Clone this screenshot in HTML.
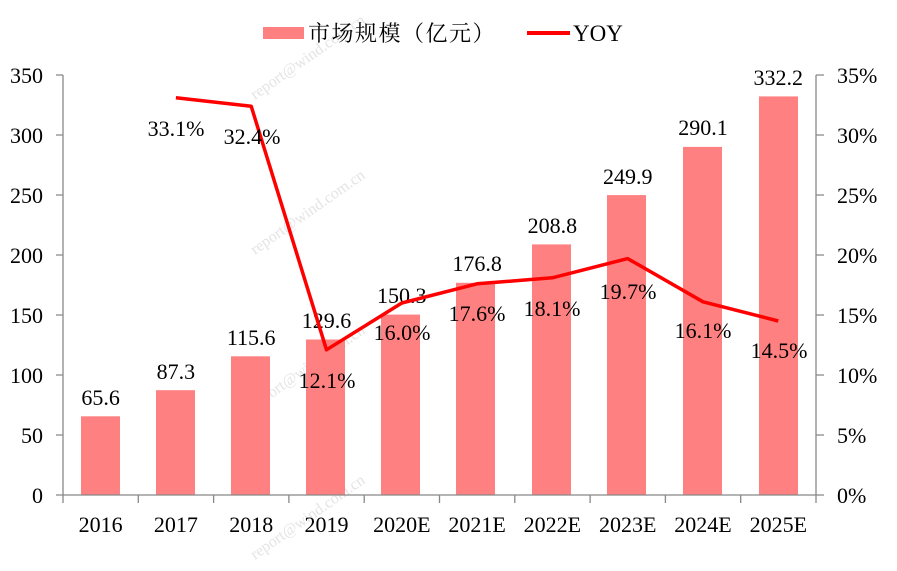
<!DOCTYPE html>
<html><head><meta charset="utf-8"><style>
html,body{margin:0;padding:0;background:#fff;}
svg text{font-family:"Liberation Serif","Noto Serif CJK SC",serif;fill:#000;}
</style></head><body>
<svg width="897" height="566" xmlns="http://www.w3.org/2000/svg">
<rect width="897" height="566" fill="#fff"/>
<g font-size="16">
<text x="255" y="100" transform="rotate(-35 255 100)" style="fill:#e4e4e4">report@wind.com.cn</text>
<text x="255" y="255" transform="rotate(-35 255 255)" style="fill:#e4e4e4">report@wind.com.cn</text>
<text x="255" y="410" transform="rotate(-35 255 410)" style="fill:#e4e4e4">report@wind.com.cn</text>
<text x="255" y="560" transform="rotate(-35 255 560)" style="fill:#e4e4e4">report@wind.com.cn</text>
</g>
<rect x="263" y="27" width="41" height="12" fill="#FF8080"/>
<text x="308" y="41" font-size="22" letter-spacing="1.5">市场规模（亿元）</text>
<line x1="527" y1="33" x2="570" y2="33" stroke="#FF0000" stroke-width="4"/>
<text x="573" y="41" font-size="23">YOY</text>
<g fill="#FF8080">
<rect x="81" y="416.3" width="39" height="78.7"/>
<rect x="156" y="390.2" width="39" height="104.8"/>
<rect x="231" y="356.3" width="39" height="138.7"/>
<rect x="306" y="339.5" width="39" height="155.5"/>
<rect x="381" y="314.6" width="39" height="180.4"/>
<rect x="456" y="282.8" width="39" height="212.2"/>
<rect x="532" y="244.4" width="39" height="250.6"/>
<rect x="607" y="195.1" width="39" height="299.9"/>
<rect x="683" y="146.9" width="39" height="348.1"/>
<rect x="759" y="96.4" width="39" height="398.6"/>
</g>
<g stroke="#888" stroke-width="1.3" fill="none">
<line x1="63" y1="75" x2="63" y2="495"/>
<line x1="816" y1="75" x2="816" y2="495"/>
<line x1="63" y1="495" x2="816" y2="495"/>
<path d="M56 75H63M56 135H63M56 195H63M56 255H63M56 315H63M56 375H63M56 435H63M56 495H63"/>
<path d="M816 75H824M816 135H824M816 195H824M816 255H824M816 315H824M816 375H824M816 435H824M816 495H824"/>
<path d="M63 495V503M138.3 495V503M213.6 495V503M288.9 495V503M364.2 495V503M439.5 495V503M514.8 495V503M590.1 495V503M665.4 495V503M740.7 495V503M816 495V503"/>
</g>
<g font-size="22" text-anchor="end">
<text x="43" y="83">350</text><text x="43" y="143">300</text><text x="43" y="203">250</text><text x="43" y="263">200</text><text x="43" y="323">150</text><text x="43" y="383">100</text><text x="43" y="443">50</text><text x="43" y="503">0</text>
</g>
<g font-size="22">
<text x="837" y="83">35%</text><text x="837" y="143">30%</text><text x="837" y="203">25%</text><text x="837" y="263">20%</text><text x="837" y="323">15%</text><text x="837" y="383">10%</text><text x="837" y="443">5%</text><text x="837" y="503">0%</text>
</g>
<g font-size="22" text-anchor="middle">
<text x="100.6" y="532">2016</text><text x="175.9" y="532">2017</text><text x="251.2" y="532">2018</text><text x="326.5" y="532">2019</text><text x="401.8" y="532">2020E</text><text x="477.1" y="532">2021E</text><text x="552.4" y="532">2022E</text><text x="627.7" y="532">2023E</text><text x="703" y="532">2024E</text><text x="778.3" y="532">2025E</text>
</g>
<g font-size="22" text-anchor="middle">
<text x="100.6" y="405">65.6</text><text x="175.9" y="379">87.3</text><text x="251.2" y="345">115.6</text><text x="326.5" y="328">129.6</text><text x="401.8" y="303">150.3</text><text x="477.1" y="271">176.8</text><text x="552.4" y="233">208.8</text><text x="627.7" y="184">249.9</text><text x="703" y="135">290.1</text><text x="778.3" y="85">332.2</text>
</g>
<polyline fill="none" stroke="#FF0000" stroke-width="3.5" stroke-linejoin="round" points="175.9,97.8 251.2,106.2 326.5,349.8 401.8,303 477.1,283.8 552.4,277.8 627.7,258.6 703,301.8 778.3,321"/>
<g font-size="22" text-anchor="middle">
<text x="176" y="136">33.1%</text><text x="252" y="144">32.4%</text><text x="327" y="388">12.1%</text><text x="402" y="340">16.0%</text><text x="477" y="321">17.6%</text><text x="552" y="316">18.1%</text><text x="628" y="299">19.7%</text><text x="703" y="338">16.1%</text><text x="779" y="358">14.5%</text>
</g>
</svg>
</body></html>
